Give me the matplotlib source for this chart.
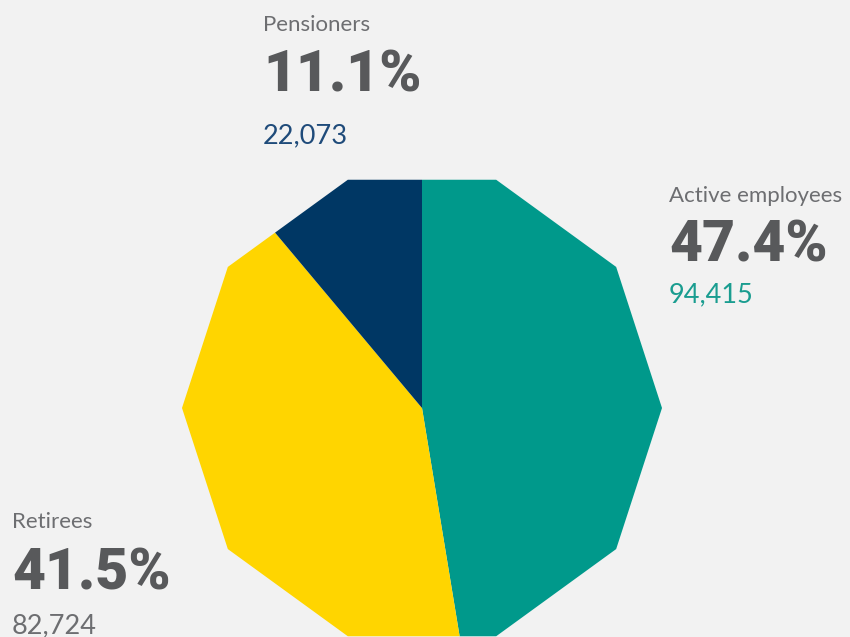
import numpy as np
import matplotlib.pyplot as plt
from matplotlib.patches import Polygon

plt.rcParams['font.family'] = ['Roboto', 'DejaVu Sans']

# data
labels = ["Active employees", "Retirees", "Pensioners"]
shares = [47.4, 41.5, 11.1]
counts = ["94,415", "82,724", "22,073"]
colors = ["#00998b", "#ffd500", "#003764"]
count_colors = ["#1a9d90", "#6d6e71", "#1f4b7a"]

# decagon geometry (pixel units)
cx, cy, R = 422, 408, 240
nSides = 10


def boundary_point(ang):
    # point on decagon edge in direction ang (degrees, math convention)
    a = np.radians(ang)
    step = 2 * np.pi / nSides
    k = np.floor((a % (2 * np.pi)) / step)
    a0, a1 = k * step, (k + 1) * step
    p0 = np.array([np.cos(a0), np.sin(a0)]) * R
    p1 = np.array([np.cos(a1), np.sin(a1)]) * R
    d = np.array([np.cos(a), np.sin(a)])
    e = p1 - p0
    # solve t*d = p0 + s*e
    M = np.array([d, -e]).T
    t, s = np.linalg.solve(M, p0)
    return t * d


def wedge(start, end):
    # clockwise from start to end (degrees), start > end
    pts = [np.array([0.0, 0.0]), boundary_point(start)]
    verts = np.arange(0, 360, 360 / nSides)
    angs = []
    for v in verts:
        for off in (-360, 0, 360):
            vv = v + off
            if end < vv < start:
                angs.append(vv)
    for vv in sorted(angs, reverse=True):
        pts.append(np.array([np.cos(np.radians(vv)), np.sin(np.radians(vv))]) * R)
    pts.append(boundary_point(end))
    pts = np.array(pts)
    return np.column_stack([cx + pts[:, 0], cy - pts[:, 1]])


fig = plt.figure(figsize=(8.5, 6.37), dpi=100)
fig.patch.set_facecolor("#f2f2f2")
ax = fig.add_axes([0, 0, 1, 1])
ax.set_facecolor("#f2f2f2")
ax.set_xlim(0, 850)
ax.set_ylim(637, 0)
ax.axis('off')

start = 90.0
for share, col in zip(shares, colors):
    end = start - share / 100 * 360
    ax.add_patch(Polygon(wedge(start, end), closed=True, facecolor=col,
                         edgecolor='none'))
    start = end

# labels: (x, label baseline, pct baseline, count baseline)
label_pos = [(669, 202, 262, 302), (12, 528, 590, 633), (263, 31, 91, 143)]
for lab, sh, cnt, ccol, pos in zip(labels, shares, counts, count_colors, label_pos):
    x, y1, y2, y3 = pos
    ax.text(x, y1, lab, fontsize=16, color="#6d6e71", family=['Lato', 'DejaVu Sans'],
            va='baseline', ha='left')
    ax.text(x, y2, f"{sh:.1f}%", fontsize=41, color="#58595b", fontweight='heavy',
            va='baseline', ha='left')
    ax.text(x, y3, cnt, fontsize=19.5, color=ccol, family=['Lato', 'DejaVu Sans'],
            va='baseline', ha='left')

fig.savefig("out.png", dpi=100, facecolor=fig.get_facecolor())
